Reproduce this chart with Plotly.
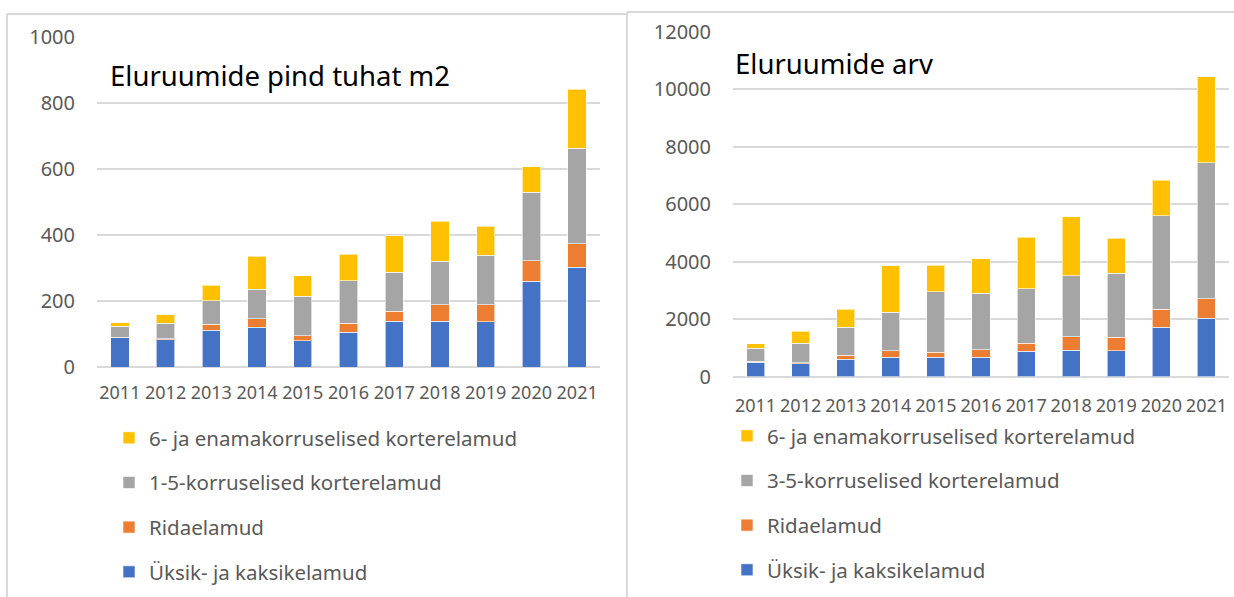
import plotly.graph_objects as go

years = [str(y) for y in range(2011, 2022)]

# Eluruumide pind (tuhat m2)
area_single = [88, 82, 111, 120, 79, 105, 138, 139, 137, 260, 303]
area_row = [2, 4, 19, 26, 15, 27, 31, 50, 52, 62, 71]
area_low = [33, 47, 71, 90, 121, 130, 118, 131, 149, 207, 289]
area_high = [11, 26, 46, 99, 62, 79, 110, 121, 89, 78, 178]

# Eluruumide arv
count_single = [490, 450, 600, 670, 670, 670, 880, 915, 895, 1720, 2030]
count_row = [45, 25, 140, 220, 175, 255, 280, 475, 465, 615, 685]
count_mid = [450, 685, 975, 1350, 2110, 1975, 1890, 2125, 2240, 3270, 4735]
count_high = [150, 420, 630, 1610, 920, 1195, 1800, 2055, 1220, 1230, 2985]

names_left = ["Üksik- ja kaksikelamud", "Ridaelamud",
              "1-5-korruselised korterelamud", "6- ja enamakorruselised korterelamud"]
names_right = ["Üksik- ja kaksikelamud", "Ridaelamud",
               "3-5-korruselised korterelamud", "6- ja enamakorruselised korterelamud"]
colors = ["#4472C4", "#ED7D31", "#A5A5A5", "#FFC000"]

W, H = 1234, 597
def px(x):
    return x / W
def py(y):
    return 1 - y / H

FONT = "Noto Sans"
GREY = "#595959"

fig = go.Figure()

for i, (vals, name) in enumerate(zip([area_single, area_row, area_low, area_high], names_left)):
    fig.add_trace(go.Bar(
        x=years, y=vals, name=name, marker_color=colors[i],
        marker_line=dict(color="rgba(255,255,255,0.6)", width=1),
        xaxis="x", yaxis="y", legend="legend", legendgroup="L%d" % i,
        legendrank=10 - i,
    ))
for i, (vals, name) in enumerate(zip([count_single, count_row, count_mid, count_high], names_right)):
    fig.add_trace(go.Bar(
        x=years, y=vals, name=name, marker_color=colors[i],
        marker_line=dict(color="rgba(255,255,255,0.6)", width=1),
        xaxis="x2", yaxis="y2", legend="legend2", legendgroup="R%d" % i,
        legendrank=10 - i,
    ))

axis_common = dict(showline=False, ticks="", fixedrange=True, automargin=False)

fig.update_layout(
    width=W, height=H,
    margin=dict(l=0, r=0, t=0, b=0, autoexpand=False),
    paper_bgcolor="white", plot_bgcolor="white",
    barmode="stack", bargap=0.6,
    font=dict(family=FONT, color=GREY),
    xaxis=dict(domain=[px(97), px(600)], anchor="y", showgrid=False,
               tickfont=dict(size=18, color=GREY), ticklabelstandoff=13, **axis_common),
    yaxis=dict(domain=[py(367), py(37)], anchor="x", range=[0, 1000], dtick=200,
               tickformat="d",
               showgrid=True, gridcolor="#d9d9d9", gridwidth=2,
               zeroline=True, zerolinecolor="#d9d9d9", zerolinewidth=2,
               tickfont=dict(size=20, color=GREY), ticklabelstandoff=21, **axis_common),
    xaxis2=dict(domain=[px(733), px(1229)], anchor="y2", showgrid=False,
                tickfont=dict(size=18, color=GREY), ticklabelstandoff=16, **axis_common),
    yaxis2=dict(domain=[py(376.5), py(32)], anchor="x2", range=[0, 12000], dtick=2000,
                tickformat="d",
                showgrid=True, gridcolor="#d9d9d9", gridwidth=2,
                zeroline=True, zerolinecolor="#d9d9d9", zerolinewidth=2,
                tickfont=dict(size=20, color=GREY), ticklabelstandoff=21, **axis_common),
    legend=dict(x=px(109), y=py(418), xanchor="left", yanchor="top",
                traceorder="grouped", tracegroupgap=15,
                font=dict(size=20.5, color=GREY, family=FONT), bgcolor="rgba(0,0,0,0)"),
    legend2=dict(x=px(727), y=py(416), xanchor="left", yanchor="top",
                 traceorder="grouped", tracegroupgap=15,
                 font=dict(size=20.5, color=GREY, family=FONT), bgcolor="rgba(0,0,0,0)"),
    showlegend=True,
    annotations=[
        dict(text="Eluruumide pind tuhat m2", x=px(108), y=py(75), xref="paper", yref="paper",
             xanchor="left", yanchor="middle", showarrow=False,
             font=dict(size=27.5, color="#000000", family=FONT)),
        dict(text="Eluruumide arv", x=px(733), y=py(63), xref="paper", yref="paper",
             xanchor="left", yanchor="middle", showarrow=False,
             font=dict(size=27.5, color="#000000", family=FONT)),
    ],
    shapes=[
        dict(type="line", xref="paper", yref="paper", x0=px(7), x1=px(626), y0=py(14), y1=py(14),
             line=dict(color="#d9d9d9", width=2)),
        dict(type="line", xref="paper", yref="paper", x0=px(7), x1=px(7), y0=py(14), y1=py(600),
             line=dict(color="#d9d9d9", width=2)),
        dict(type="line", xref="paper", yref="paper", x0=px(627), x1=px(1240), y0=py(12), y1=py(12),
             line=dict(color="#d9d9d9", width=2)),
        dict(type="line", xref="paper", yref="paper", x0=px(627), x1=px(627), y0=py(12), y1=py(600),
             line=dict(color="#d9d9d9", width=2)),
    ],
)

fig.write_html("out.html", config={"displayModeBar": False},
               post_script="document.body.style.margin='0';document.body.style.overflow='hidden';")
